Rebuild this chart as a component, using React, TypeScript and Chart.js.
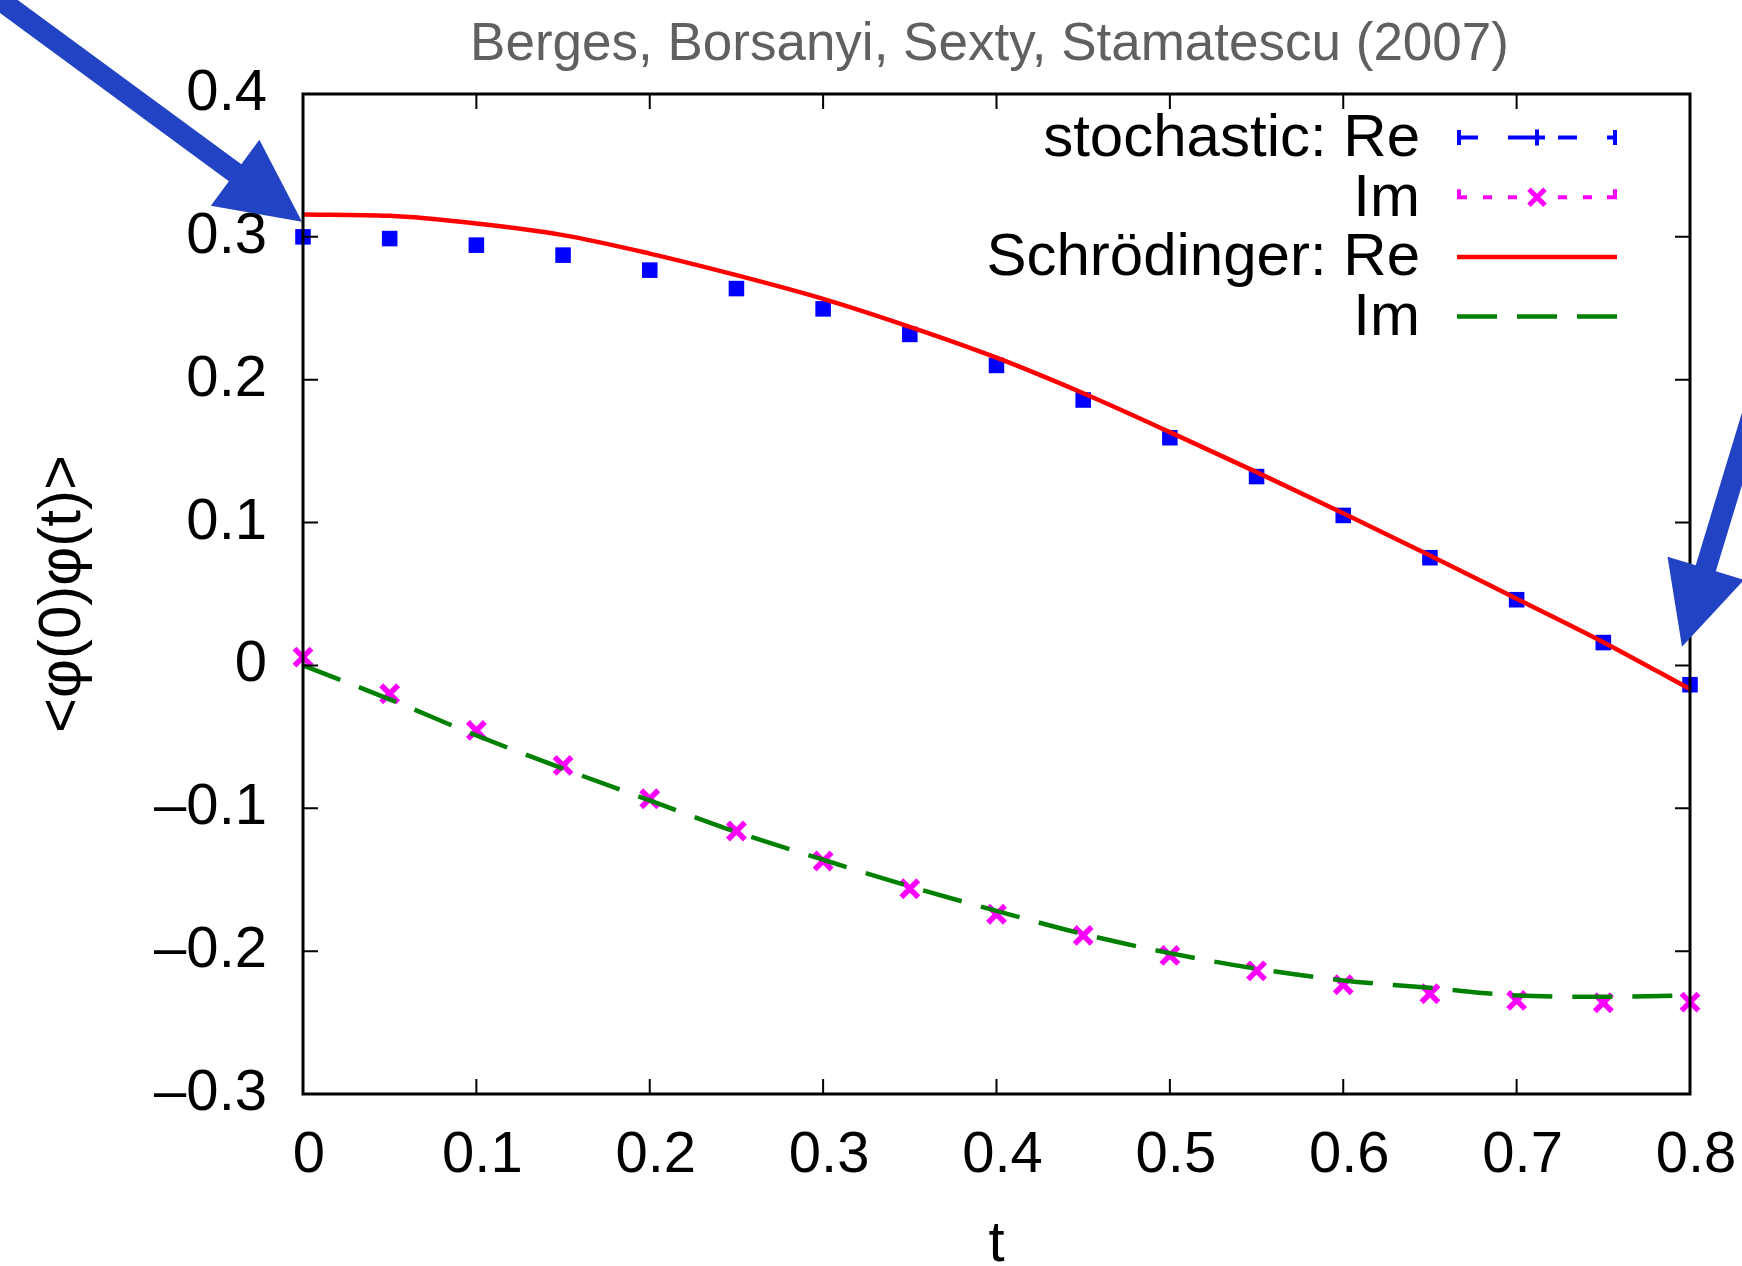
import React, { useEffect, useRef } from 'react';
import { Chart, registerables } from 'chart.js';

Chart.register(...registerables);

// ---------------- data ----------------
const tValues = [0, 0.05, 0.1, 0.15, 0.2, 0.25, 0.3, 0.35, 0.4, 0.45, 0.5, 0.55, 0.6, 0.65, 0.7, 0.75, 0.8];
const stochasticRe = [0.300, 0.2988, 0.2942, 0.2872, 0.2767, 0.2638, 0.2496, 0.2317, 0.2100, 0.1858, 0.1594, 0.1322, 0.1050, 0.0754, 0.0460, 0.0160, -0.0135];
const stochasticIm = [0.0058, -0.0198, -0.0455, -0.0700, -0.0933, -0.1159, -0.1369, -0.1563, -0.1742, -0.1890, -0.2030, -0.2138, -0.2235, -0.2298, -0.2345, -0.2361, -0.2357];
const schrodingerRe = [0.3156, 0.3147, 0.3093, 0.3012, 0.2883, 0.2732, 0.2566, 0.2370, 0.2154, 0.1905, 0.1633, 0.1353, 0.1065, 0.0770, 0.0467, 0.0163, -0.0166];
const schrodingerIm = [0.0, -0.0238, -0.0490, -0.0723, -0.0945, -0.1166, -0.1360, -0.1547, -0.1718, -0.1880, -0.2014, -0.2123, -0.2205, -0.2257, -0.2310, -0.2319, -0.2310];

const xTickLabels = ['0', '0.1', '0.2', '0.3', '0.4', '0.5', '0.6', '0.7', '0.8'];
const yTickLabels = ['\u20130.3', '\u20130.2', '\u20130.1', '0', '0.1', '0.2', '0.3', '0.4'];
const titleText = 'Berges, Borsanyi, Sexty, Stamatescu (2007)';
const xAxisTitle = 't';
const yAxisTitle = '<\u03C6(0)\u03C6(t)>';
const legendLabels = ['stochastic: Re', 'Im', 'Schr\u00F6dinger: Re', 'Im'];

const FONT = '"Liberation Sans", Arial, Helvetica, sans-serif';
const W = 1742;
const H = 1266;

const BLUE = '#0000ff';
const MAGENTA = '#ff00ff';
const RED = '#ff0000';
const GREEN = '#008000';
const ARROW = '#2143c4';

function drawArrow(ctx: CanvasRenderingContext2D, tipX: number, tipY: number, dx: number, dy: number,
  headLen: number, headHalf: number, shaftHalf: number, shaftLen: number) {
  const n = Math.hypot(dx, dy);
  dx /= n; dy /= n;
  const px = -dy, py = dx;
  const bx = tipX - dx * headLen, by = tipY - dy * headLen;
  const sx = bx - dx * shaftLen, sy = by - dy * shaftLen;
  ctx.beginPath();
  ctx.moveTo(tipX, tipY);
  ctx.lineTo(bx + px * headHalf, by + py * headHalf);
  ctx.lineTo(bx + px * shaftHalf, by + py * shaftHalf);
  ctx.lineTo(sx + px * shaftHalf, sy + py * shaftHalf);
  ctx.lineTo(sx - px * shaftHalf, sy - py * shaftHalf);
  ctx.lineTo(bx - px * shaftHalf, by - py * shaftHalf);
  ctx.lineTo(bx - px * headHalf, by - py * headHalf);
  ctx.closePath();
  ctx.fill();
}

function seg(ctx: CanvasRenderingContext2D, x0: number, y0: number, x1: number, y1: number) {
  ctx.moveTo(x0, y0);
  ctx.lineTo(x1, y1);
}

const decorPlugin = {
  id: 'decor',
  afterDatasetsDraw(chart: any) {
    const { ctx, chartArea: a, scales } = chart;
    ctx.save();
    ctx.strokeStyle = '#000';
    ctx.lineWidth = 2;
    ctx.beginPath();
    scales.x.ticks.forEach((t: any) => {
      const x = scales.x.getPixelForValue(t.value);
      seg(ctx, x, a.bottom, x, a.bottom - 15);
      seg(ctx, x, a.top, x, a.top + 15);
    });
    scales.y.ticks.forEach((t: any) => {
      const y = scales.y.getPixelForValue(t.value);
      seg(ctx, a.left, y, a.left + 15, y);
      seg(ctx, a.right, y, a.right - 15, y);
    });
    ctx.stroke();
    ctx.lineWidth = 3;
    ctx.strokeRect(a.left, a.top, a.right - a.left, a.bottom - a.top);
    ctx.restore();
  },
  afterDraw(chart: any) {
    const { ctx, chartArea: a, scales } = chart;
    ctx.save();

    // title
    ctx.fillStyle = '#606060';
    ctx.font = `53px ${FONT}`;
    ctx.textAlign = 'center';
    ctx.textBaseline = 'middle';
    ctx.fillText(titleText, (a.left + a.right) / 2 - 7, 45);

    // legend
    const textRight = a.right - 270;
    const sx0 = a.right - 233;
    const sx1 = a.right - 73;
    const rowY = (i: number) => a.top + 43.5 + i * 59.7;
    ctx.fillStyle = '#000';
    ctx.font = `60px ${FONT}`;
    ctx.textAlign = 'right';
    legendLabels.forEach((lab, i) => ctx.fillText(lab, textRight, rowY(i) + 2));

    ctx.lineCap = 'butt';
    // row 0: stochastic Re (blue, error-bar style dashed with +)
    let y = rowY(0);
    ctx.strokeStyle = BLUE;
    ctx.lineWidth = 4;
    ctx.beginPath();
    seg(ctx, sx0 + 2, y - 7.5, sx0 + 2, y + 7.5);
    seg(ctx, sx0, y, sx0 + 21, y);
    seg(ctx, sx0 + 51, y, sx0 + 88, y);
    seg(ctx, sx0 + 80, y - 8, sx0 + 80, y + 8);
    seg(ctx, sx0 + 101, y, sx0 + 120, y);
    seg(ctx, sx1 - 10, y, sx1, y);
    seg(ctx, sx1 - 2, y - 7.5, sx1 - 2, y + 7.5);
    ctx.stroke();

    // row 1: stochastic Im (magenta dotted with x)
    y = rowY(1);
    ctx.strokeStyle = MAGENTA;
    ctx.beginPath();
    seg(ctx, sx0 + 2, y - 8, sx0 + 2, y + 2);
    seg(ctx, sx0, y, sx0 + 10, y);
    seg(ctx, sx0 + 26, y, sx0 + 35, y);
    seg(ctx, sx0 + 51, y, sx0 + 60, y);
    seg(ctx, sx0 + 101, y, sx0 + 110, y);
    seg(ctx, sx0 + 126, y, sx0 + 135, y);
    seg(ctx, sx1 - 10, y, sx1, y);
    seg(ctx, sx1 - 2, y - 8, sx1 - 2, y + 2);
    ctx.stroke();
    ctx.lineWidth = 5;
    ctx.beginPath();
    seg(ctx, sx0 + 72, y - 8, sx0 + 88, y + 8);
    seg(ctx, sx0 + 72, y + 8, sx0 + 88, y - 8);
    ctx.stroke();

    // row 2: Schrödinger Re (red solid)
    y = rowY(2);
    ctx.strokeStyle = RED;
    ctx.lineWidth = 4.5;
    ctx.beginPath();
    seg(ctx, sx0, y, sx1, y);
    ctx.stroke();

    // row 3: Schrödinger Im (green dashed)
    y = rowY(3);
    ctx.strokeStyle = GREEN;
    ctx.beginPath();
    seg(ctx, sx0, y, sx0 + 40, y);
    seg(ctx, sx0 + 60, y, sx0 + 100, y);
    seg(ctx, sx0 + 120, y, sx1, y);
    ctx.stroke();

    // arrows pointing at the first and last stochastic Re points
    ctx.fillStyle = ARROW;
    const p0x = scales.x.getPixelForValue(tValues[0]);
    const p0y = scales.y.getPixelForValue(stochasticRe[0]);
    drawArrow(ctx, p0x - 1, p0y - 15, 0.806, 0.592, 83, 41, 10.5, 600);
    const last = tValues.length - 1;
    const p1x = scales.x.getPixelForValue(tValues[last]);
    const p1y = scales.y.getPixelForValue(stochasticRe[last]);
    drawArrow(ctx, p1x - 8, p1y - 38, -0.29, 0.957, 82, 40, 10.5, 400);

    ctx.restore();
  },
};

export default function App() {
  const canvasRef = useRef<HTMLCanvasElement | null>(null);

  useEffect(() => {
    const canvas = canvasRef.current;
    if (!canvas) return;
    const pts = (ys: number[]) => tValues.map((t, i) => ({ x: t, y: ys[i] }));
    const chart = new Chart(canvas, {
      type: 'line',
      data: {
        datasets: [
          {
            label: legendLabels[0],
            data: pts(stochasticRe),
            showLine: false,
            pointStyle: 'rect',
            pointRadius: 11,
            pointBackgroundColor: BLUE,
            pointBorderColor: BLUE,
            pointBorderWidth: 0,
            borderColor: BLUE,
            backgroundColor: BLUE,
            clip: false,
            order: 2,
          },
          {
            label: legendLabels[1],
            data: pts(stochasticIm),
            showLine: false,
            pointStyle: 'crossRot',
            pointRadius: 12,
            pointBorderColor: MAGENTA,
            pointBorderWidth: 5.5,
            borderColor: MAGENTA,
            backgroundColor: MAGENTA,
            clip: false,
            order: 2,
          },
          {
            label: legendLabels[2],
            data: pts(schrodingerRe),
            borderColor: RED,
            borderWidth: 4.5,
            pointRadius: 0,
            cubicInterpolationMode: 'monotone',
            fill: false,
            clip: false,
            order: 1,
          },
          {
            label: legendLabels[3],
            data: pts(schrodingerIm),
            borderColor: GREEN,
            borderWidth: 4.5,
            borderDash: [40, 20],
            pointRadius: 0,
            cubicInterpolationMode: 'monotone',
            fill: false,
            clip: false,
            order: 1,
          },
        ],
      },
      options: {
        responsive: false,
        animation: false,
        devicePixelRatio: 1,
        layout: { padding: { top: 94, right: 52, bottom: 0, left: 0 } },
        plugins: {
          legend: { display: false },
          tooltip: { enabled: false },
          title: { display: false },
        },
        scales: {
          x: {
            type: 'linear',
            min: 0,
            max: 0.8,
            grid: { display: false, drawTicks: false, tickLength: 0 },
            border: { display: false },
            ticks: {
              stepSize: 0.1,
              autoSkip: false,
              maxRotation: 0,
              padding: 27,
              labelOffset: 6,
              color: '#000',
              font: { family: FONT, size: 58 },
              callback: (_v: any, i: number) => xTickLabels[i],
            },
            title: {
              display: true,
              text: xAxisTitle,
              color: '#000',
              font: { family: FONT, size: 58, lineHeight: 0.6 },
              padding: { top: 0, bottom: 4 },
            },
            afterFit: (s: any) => { s.height = 172; s.paddingLeft = 0; s.paddingRight = 0; },
          },
          y: {
            type: 'linear',
            min: -0.3,
            max: 0.4,
            grid: { display: false, drawTicks: false, tickLength: 0 },
            border: { display: false },
            ticks: {
              stepSize: 0.1,
              autoSkip: false,
              padding: 36,
              color: '#000',
              font: { family: FONT, size: 58 },
              callback: (_v: any, i: number) => yTickLabels[i],
            },
            title: {
              display: true,
              text: yAxisTitle,
              color: '#000',
              font: { family: FONT, size: 60 },
              padding: { top: 27, bottom: 0 },
            },
            afterFit: (s: any) => { s.width = 303; s.paddingTop = 0; s.paddingBottom = 0; },
          },
        },
      },
      plugins: [decorPlugin],
    } as any);
    return () => chart.destroy();
  }, []);

  return (
    <div style={{ position: 'absolute', left: 0, top: 0, width: W, height: H, background: '#fff', overflow: 'hidden' }}>
      <canvas ref={canvasRef} width={W} height={H} style={{ display: 'block', width: W, height: H }} />
    </div>
  );
}
